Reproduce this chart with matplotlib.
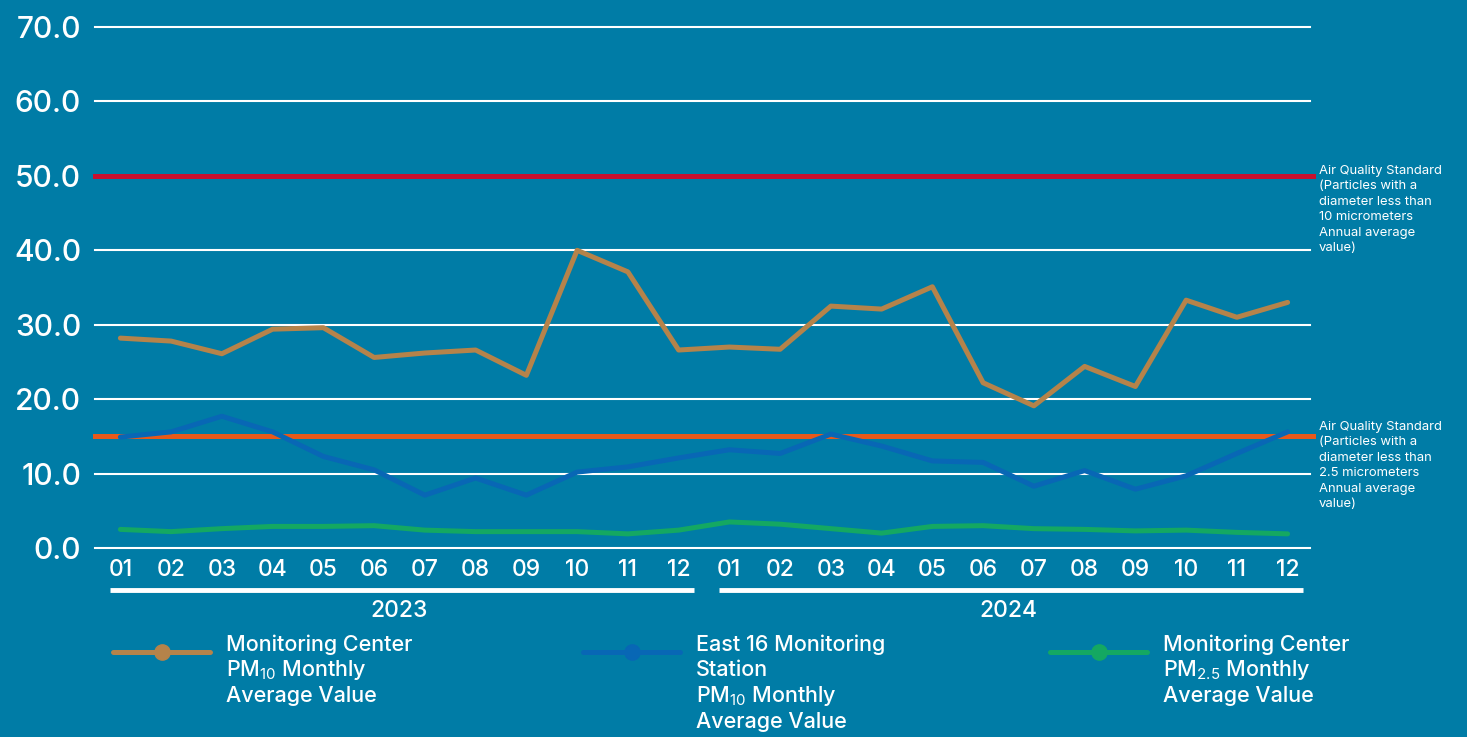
import numpy as np
import matplotlib
matplotlib.use("Agg")
import matplotlib.pyplot as plt

plt.rcParams['font.family'] = ['Inter', 'DejaVu Sans']
plt.rcParams['mathtext.fontset'] = 'custom'
plt.rcParams['mathtext.rm'] = 'Inter'
plt.rcParams['mathtext.default'] = 'rm'

months = ['01', '02', '03', '04', '05', '06', '07', '08', '09', '10', '11', '12'] * 2
years = ['2023', '2024']
center_pm10 = [28.2, 27.8, 26.1, 29.4, 29.6, 25.6, 26.2, 26.6, 23.2, 40.0, 37.1, 26.6,
               27.0, 26.7, 32.5, 32.1, 35.1, 22.2, 19.1, 24.4, 21.7, 33.3, 31.0, 33.0]
east16_pm10 = [14.9, 15.6, 17.7, 15.6, 12.3, 10.5, 7.1, 9.4, 7.1, 10.2, 10.9, 12.1,
               13.2, 12.7, 15.3, 13.7, 11.7, 11.5, 8.3, 10.4, 7.9, 9.7, 12.7, 15.6]
center_pm25 = [2.5, 2.2, 2.6, 2.9, 2.9, 3.0, 2.4, 2.2, 2.2, 2.2, 1.9, 2.4,
               3.5, 3.2, 2.6, 2.0, 2.9, 3.0, 2.6, 2.5, 2.3, 2.4, 2.1, 1.9]
std_pm10 = 50
std_pm25 = 15

bg = '#007CA6'
c_brown = '#B5834A'
c_blue = '#0867B5'
c_green = '#14A862'
c_red = '#C8102E'
c_orange = '#E8591A'

W, H = 1467, 737
fig = plt.figure(figsize=(W / 100, H / 100), dpi=100, facecolor=bg)
ax = fig.add_axes([95 / W, 1 - 548 / H, (1313 - 95) / W, (548 - 27) / H])
ax.set_facecolor(bg)

x = np.arange(len(months))
ax.set_xlim(-0.5, len(months) - 0.5)
ax.set_ylim(0, 70)

for v in range(0, 80, 10):
    ax.axhline(v, color='white', lw=1.5, xmin=0, xmax=1215 / 1218, zorder=1, clip_on=False)

ax.axhline(std_pm10, color=c_red, lw=3.6, zorder=2, clip_on=False)
ax.axhline(std_pm25, color=c_orange, lw=3.6, zorder=2, clip_on=False)

ax.plot(x, center_pm10, color=c_brown, lw=3.6, zorder=3, solid_capstyle='round')
ax.plot(x, east16_pm10, color=c_blue, lw=3.6, zorder=3, solid_capstyle='round')
ax.plot(x, center_pm25, color=c_green, lw=3.6, zorder=3, solid_capstyle='round')

for s in ax.spines.values():
    s.set_visible(False)
ax.set_yticks(range(0, 80, 10))
ax.set_yticklabels([f'{v:.1f}' for v in range(0, 80, 10)], fontsize=21.5, color='white',
                   fontweight='medium')
ax.set_xticks(x)
ax.set_xticklabels(months, fontsize=16.5, color='white', fontweight='medium')
ax.tick_params(length=0)
ax.tick_params(axis='x', pad=8)
ax.tick_params(axis='y', pad=10)

# year brackets
tr = ax.get_xaxis_transform()
for i, yr in enumerate(years):
    x0 = i * 12 - 0.2
    x1 = i * 12 + 11.3
    ax.plot([x0, x1], [-0.08, -0.08], transform=tr, color='white', lw=3.5,
            clip_on=False, solid_capstyle='butt')
    ax.text(i * 12 + 5.5, -0.12, yr, transform=tr, ha='center', va='center',
            fontsize=16.5, color='white', fontweight='medium')

# standard labels
note10 = 'Air Quality Standard\n(Particles with a\ndiameter less than\n10 micrometers\nAnnual average\nvalue)'
note25 = 'Air Quality Standard\n(Particles with a\ndiameter less than\n2.5 micrometers\nAnnual average\nvalue)'
fig.text(1319 / W, 1 - 165 / H, note10, ha='left', va='top', fontsize=9.4,
         color='white', linespacing=1.38)
fig.text(1319 / W, 1 - 421 / H, note25, ha='left', va='top', fontsize=9.4,
         color='white', linespacing=1.38)

# legend
legend_items = [
    (c_brown, 113, ['Monitoring Center', 'PM$_{10}$ Monthly', 'Average Value']),
    (c_blue, 583, ['East 16 Monitoring', 'Station', 'PM$_{10}$ Monthly', 'Average Value']),
    (c_green, 1050, ['Monitoring Center', 'PM$_{2.5}$ Monthly', 'Average Value']),
]
for col, lx, lines in legend_items:
    fig.add_artist(plt.Line2D([lx / W, (lx + 97) / W], [1 - 652 / H] * 2, color=col, lw=3.6,
                              solid_capstyle='round', transform=fig.transFigure))
    fig.add_artist(plt.Line2D([(lx + 49) / W], [1 - 652 / H], color=col, marker='o',
                              markersize=11, transform=fig.transFigure))
    for j, t in enumerate(lines):
        fig.text((lx + 113) / W, 1 - (645 + 25.5 * j) / H, t, ha='left', va='center',
                 fontsize=15.5, color='white', fontweight='medium')

fig.savefig('out.png', dpi=100, facecolor=bg)
